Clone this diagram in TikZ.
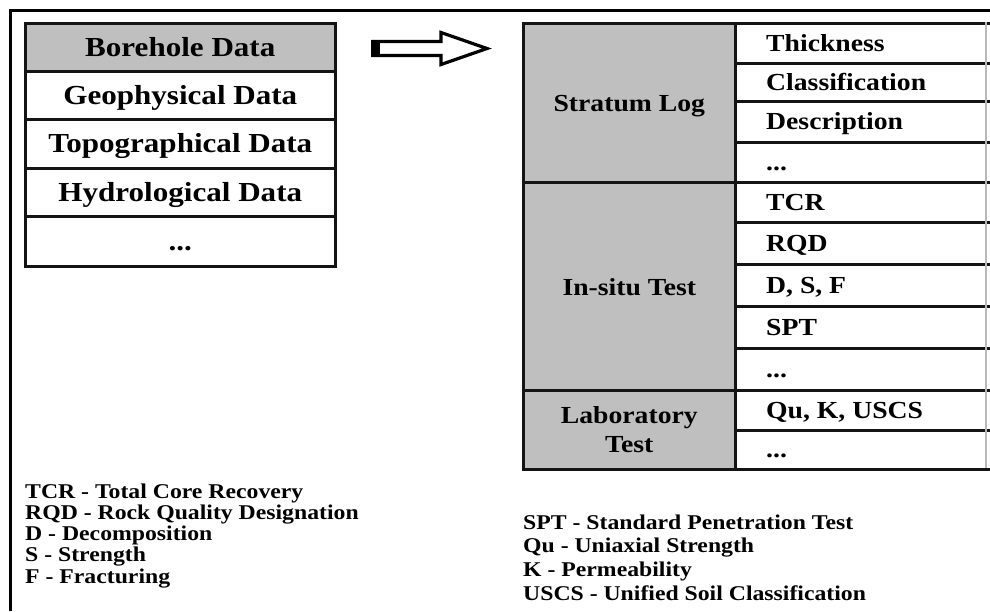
\documentclass[tikz,border=0pt]{standalone}
\usepackage{fontspec}
\setmainfont{Liberation Serif}[FakeStretch=1.13]
\begin{document}
\begin{tikzpicture}[x=1pt,y=-1pt,
  rule/.style={line width=2.6pt, draw=black!92},
  cell/.style={rule, rectangle, inner sep=0pt, anchor=north west},
  shaded/.style={cell, fill=black!25},
  plain/.style={cell, fill=white},
  single/.style={text height=18pt, text depth=0pt},
  bigtxt/.style={font=\bfseries\fontsize{27.5}{30}\selectfont},
  midtxt/.style={font=\bfseries\fontsize{24.5}{30}\selectfont},
  rowtxt/.style={midtxt, anchor=base west, inner sep=0pt},
  legend/.style={font=\bfseries\fontsize{21}{21.3}\selectfont, align=left, anchor=base west, inner sep=0pt},
]
\useasboundingbox (0,0) rectangle (990,611);

% outer frame (top and left rules only)
\draw[line width=3pt] (10.5,611) -- (10.5,10.5) -- (990,10.5);

% ---- data sources table ----
\node[shaded, bigtxt, single, minimum width=310, minimum height=48] (bh) at (24,22) {Borehole Data};
\node[plain, bigtxt, single, minimum width=310, minimum height=48] (gp) at (24,70) {Geophysical Data};
\node[plain, bigtxt, single, minimum width=310, minimum height=49] (tp) at (24,118) {Topographical Data};
\node[plain, bigtxt, single, minimum width=310, minimum height=48] (hy) at (24,167) {Hydrological Data};
\node[plain, bigtxt, single, minimum width=310, minimum height=50] (ms) at (24,215) {...};

% ---- block arrow ----
\filldraw[fill=white, draw=black, line width=3.2pt, line join=miter]
  (373,41.5) -- (441,41.5) -- (441,32.5) -- (487,48.5) -- (441,64.5) -- (441,55.5) -- (373,55.5) -- cycle;
\fill (371,40) rectangle (380,57);

% ---- borehole data table: categories ----
\node[shaded, midtxt, single, minimum width=212, minimum height=159] (sl) at (522,22) {Stratum Log};
\node[shaded, midtxt, single, minimum width=212, minimum height=208] (it) at (522,181) {In-situ Test};
\node[shaded, midtxt, align=center, minimum width=212, minimum height=79] (lt) at (522,389) {Laboratory\\[-0.5pt]Test};

% ---- borehole data table: items ----
\node[plain, minimum width=258, minimum height=40] (r1) at (734,22) {};
\node[plain, minimum width=258, minimum height=38] (r2) at (734,62) {};
\node[plain, minimum width=258, minimum height=41] (r3) at (734,100) {};
\node[plain, minimum width=258, minimum height=40] (r4) at (734,141) {};
\node[plain, minimum width=258, minimum height=40] (r5) at (734,181) {};
\node[plain, minimum width=258, minimum height=42] (r6) at (734,221) {};
\node[plain, minimum width=258, minimum height=42] (r7) at (734,263) {};
\node[plain, minimum width=258, minimum height=42] (r8) at (734,305) {};
\node[plain, minimum width=258, minimum height=42] (r9) at (734,347) {};
\node[plain, minimum width=258, minimum height=40] (r10) at (734,389) {};
\node[plain, minimum width=258, minimum height=39] (r11) at (734,429) {};
\draw[gray!55, line width=1.2pt] (986,22) -- (986,468);

\node[rowtxt] (t1) at (766,51) {Thickness};
\node[rowtxt] (t2) at (766,90) {Classification};
\node[rowtxt] (t3) at (766,129.5) {Description};
\node[rowtxt] (t4) at (766,170) {...};
\node[rowtxt] (t5) at (766,210) {TCR};
\node[rowtxt] (t6) at (766,251) {RQD};
\node[rowtxt] (t7) at (766,293) {D, S, F};
\node[rowtxt] (t8) at (766,335) {SPT};
\node[rowtxt] (t9) at (766,377) {...};
\node[rowtxt] (t10) at (766,418) {Qu, K, USCS};
\node[rowtxt] (t11) at (766,457.5) {...};

% ---- abbreviations (anchored at the baseline of their last line) ----
\node[legend] (legl) at (25,583.2) {TCR - Total Core Recovery\\RQD - Rock Quality Designation\\D - Decomposition\\S - Strength\\F - Fracturing};
\node[legend, font=\bfseries\fontsize{21}{23.7}\selectfont] (legr) at (523,600.1) {SPT - Standard Penetration Test\\Qu - Uniaxial Strength\\K - Permeability\\USCS - Unified Soil Classification};
\end{tikzpicture}
\end{document}
